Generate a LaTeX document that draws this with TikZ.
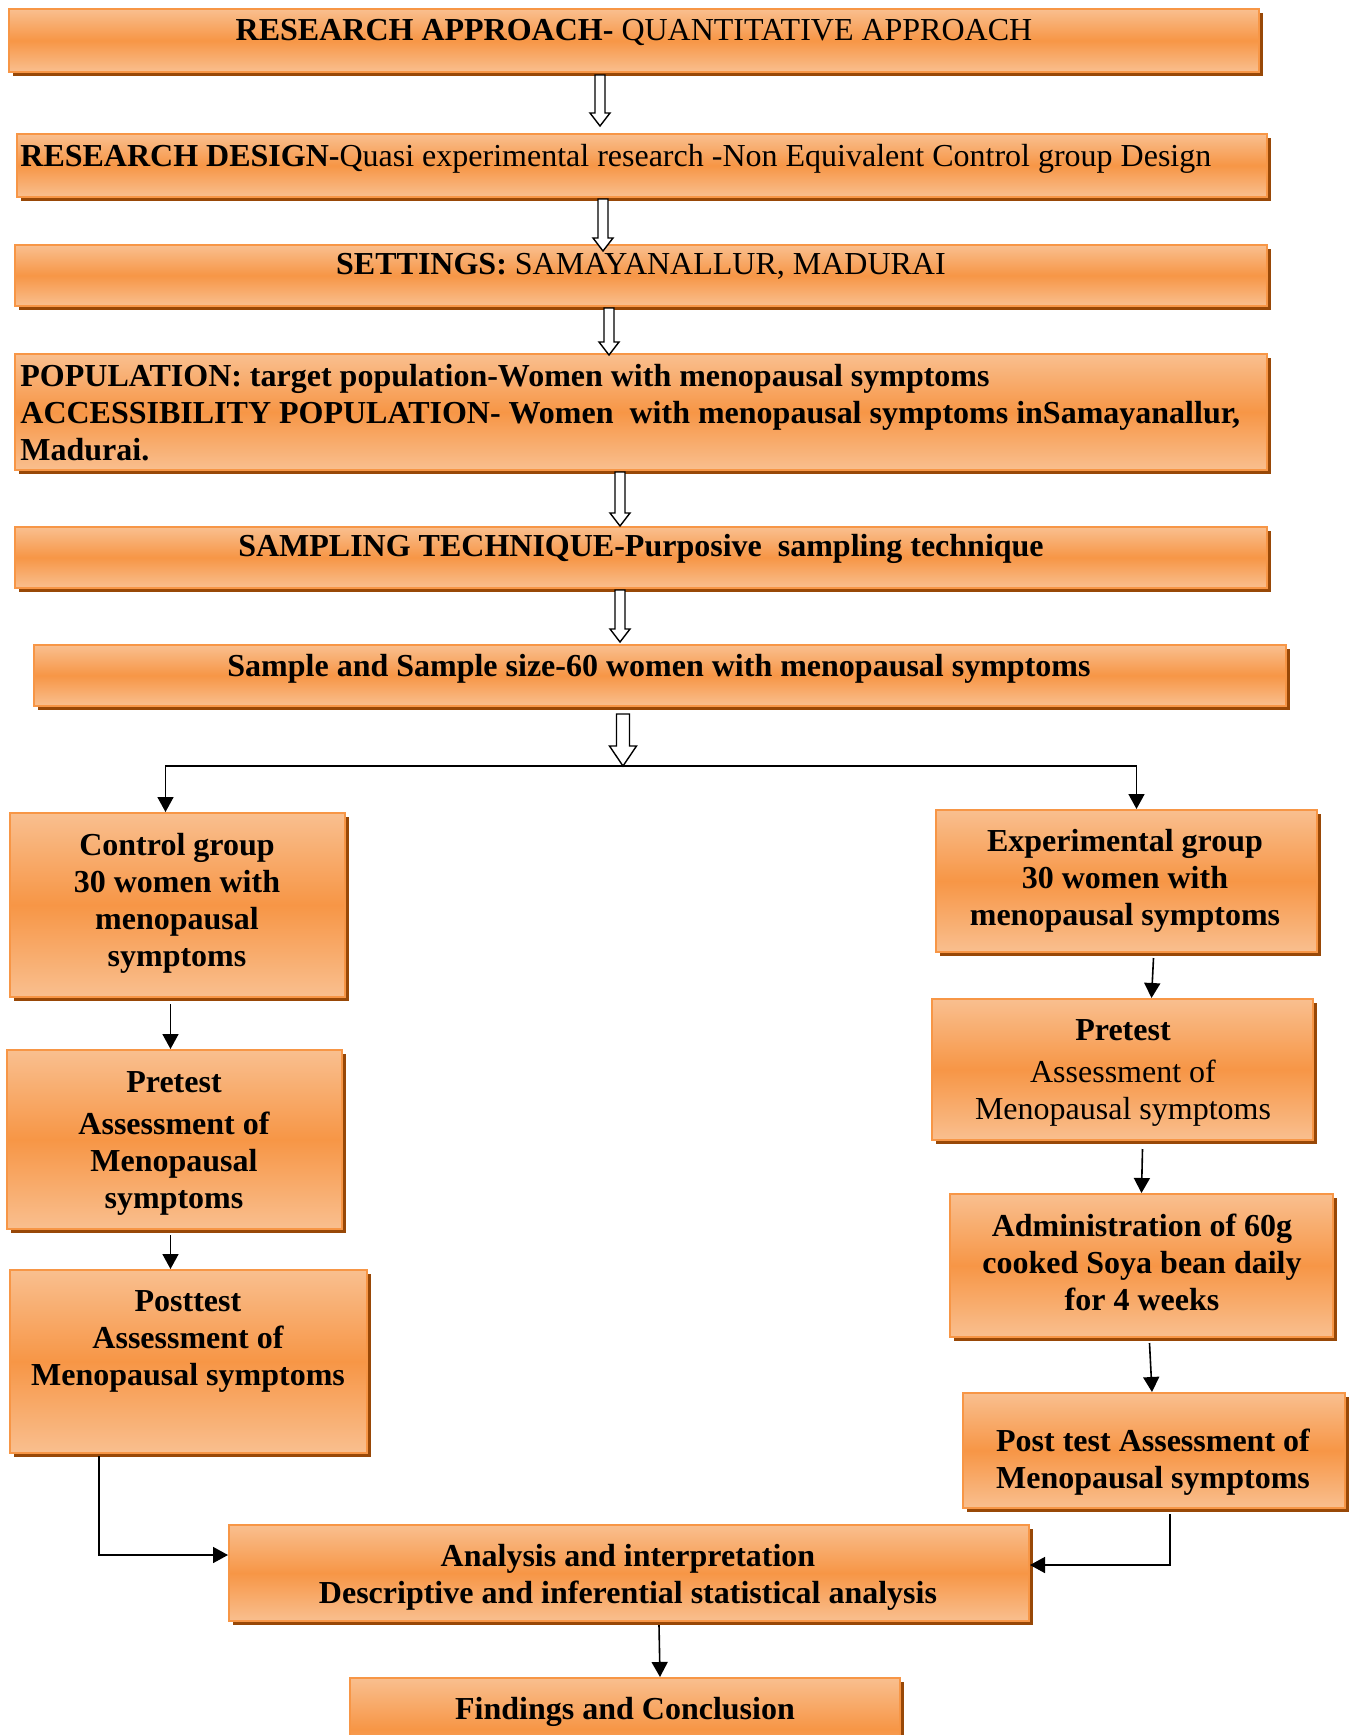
\documentclass[tikz,border=0pt]{standalone}
\usepackage{fontspec}
\setmainfont{Liberation Serif}
\usetikzlibrary{shadows,calc,arrows.meta,fit}
\definecolor{pk}{HTML}{F9BF8F}
\definecolor{orng}{HTML}{F79646}
\definecolor{brd}{HTML}{F79646}
\definecolor{shc}{HTML}{984807}
\tikzset{
 box/.style={draw=brd, line width=1pt, top color=pk, bottom color=pk, middle color=orng, inner sep=0pt,
   general shadow={fill=shc, shadow xshift=2pt, shadow yshift=-2pt}},
 txt/.style={inner sep=0pt, align=center, font=\fontsize{16pt}{18.5pt}\selectfont\bfseries},
 txtl/.style={txt, align=left, anchor=west},
 arr/.style={line width=0.8pt, -{Triangle[width=8pt,length=7.5pt]}},
 hollow/.style={draw=black, fill=white, line width=0.7pt, line join=miter},
}
\newcommand\harrow[5]{\draw[hollow] let \p1=(#1), \p2=(#2) in (\x1-#3,\y1) -- (\x1-#3,\y2+#5) -- (\x1-#4,\y2+#5) -- (\x1,\y2) -- (\x1+#4,\y2+#5) -- (\x1+#3,\y2+#5) -- (\x1+#3,\y1) -- cycle;}
\begin{document}
\begin{tikzpicture}[x=0.5pt,y=-0.5pt]
\useasboundingbox (0,0) rectangle (1352,1735);
\clip (0,0) rectangle (1352,1735);
\fill[white] (0,0) rectangle (1352,1735);
% boxes
\node[box, fit={(9,9) (1259,72)}] (b1) {};
\node[box, fit={(17,134) (1267,197)}] (b2) {};
\node[box, fit={(15,245) (1267,306)}] (b3) {};
\node[box, fit={(15,354) (1267,470)}] (b4) {};
\node[box, fit={(15,527) (1267,588)}] (b5) {};
\node[box, fit={(34,645) (1286,706)}] (b6) {};
\node[box, fit={(10,813) (345,997)}] (cg) {};
\node[box, fit={(7,1050) (342,1229)}] (pl) {};
\node[box, fit={(10,1270) (367,1453)}] (ql) {};
\node[box, fit={(936,810) (1317,952)}] (ex) {};
\node[box, fit={(932,999) (1313,1140)}] (pr) {};
\node[box, fit={(950,1194) (1333,1337)}] (ad) {};
\node[box, fit={(963,1393) (1345,1508)}] (qr) {};
\node[box, fit={(229,1525) (1029,1621)}] (an) {};
\node[box, fit={(350,1678) (900,1780)}] (fi) {};
% texts
\node[txt] (t1) at (634,32) {RESEARCH APPROACH- {\mdseries QUANTITATIVE APPROACH}};
\node[txtl] (t2) at (20,159) {RESEARCH DESIGN-{\mdseries Quasi experimental research -Non Equivalent Control group Design}};
\node[txt] (t3) at (641,266) {SETTINGS: {\mdseries SAMAYANALLUR, MADURAI}};
\node[txtl] (t4) at (20,413) {POPULATION: target population-Women with menopausal symptoms\\ACCESSIBILITY POPULATION- Women\ \ with menopausal symptoms inSamayanallur,\\Madurai.};
\node[txt] (t5) at (641,549) {SAMPLING TECHNIQUE-Purposive\ \ sampling technique};
\node[txt] (t6) at (659,669) {Sample and Sample size-60 women with menopausal symptoms};
\node[txt] (tcg) at (177,903) {Control group\\30 women with\\menopausal\\symptoms};
\node[txt] (tpl) at (174,1143) {Pretest\\[2.5pt]Assessment of\\Menopausal\\symptoms};
\node[txt] (tql) at (188,1341) {Posttest\\Assessment of\\Menopausal symptoms};
\node[txt] (tex) at (1125,881) {Experimental group\\30 women with\\menopausal symptoms};
\node[txt] (tpr) at (1123,1073) {Pretest\\[2.5pt]{\mdseries Assessment of}\\{\mdseries Menopausal symptoms}};
\node[txt] (tad) at (1142,1262) {Administration of 60g\\cooked Soya bean daily\\for 4 weeks};
\node[txt] (tqr) at (1153,1462) {Post test Assessment of\\Menopausal symptoms};
\node[txt] (tan) at (628,1577) {Analysis and interpretation\\Descriptive and inferential statistical analysis};
\node[txt] (tfi) at (625,1712) {Findings and Conclusion};
% hollow arrows
\coordinate (h1s) at (600,75);  \coordinate (h1e) at (600,126);
\coordinate (h2s) at (603,199); \coordinate (h2e) at (603,251);
\coordinate (h3s) at (609,308); \coordinate (h3e) at (609,355);
\coordinate (h4s) at (620,472); \coordinate (h4e) at (620,526);
\coordinate (h5s) at (620,590); \coordinate (h5e) at (620,642);
\coordinate (h6s) at (623,714); \coordinate (split) at (623,766);
\harrow{h1s}{h1e}{2.5pt}{5pt}{6.5pt}
\harrow{h2s}{h2e}{2.5pt}{5pt}{6.5pt}
\harrow{h3s}{h3e}{2.5pt}{5pt}{6.5pt}
\harrow{h4s}{h4e}{2.5pt}{5pt}{6.5pt}
\harrow{h5s}{h5e}{2.5pt}{5pt}{6.5pt}
% split
\draw[arr] (split) -| ($(cg.north)+(-12,0)$);
\draw[arr] (split) -| ($(ex.north)+(10,0)$);
\harrow{h6s}{split}{3.25pt}{6.75pt}{10pt}
% left column
\draw[arr] ($(cg.south)+(-7,6)$) -- ($(pl.north)+(-4,0)$);
\draw[arr] ($(pl.south)+(-4,5)$) -- ($(ql.north)+(-18,0)$);
\draw[arr] ($(ql.south west)+(90,2)$) |- ($(an.west)+(0,-18)$);
% right column
\draw[arr] ($(ex.south)+(27,5)$) -- ($(pr.north)+(29,0)$);
\draw[arr] ($(pr.south)+(20,8)$) -- ($(ad.north)+(0,0)$);
\draw[arr] ($(ad.south)+(8,5)$) -- ($(qr.north)+(-2,0)$);
\draw[arr] ($(qr.south west)+(208,5)$) |- ($(an.east)+(0,-8)$);
% bottom
\draw[arr] ($(an.south)+(30,3)$) -- ($(fi.north)+(35,0)$);
\end{tikzpicture}
\end{document}
